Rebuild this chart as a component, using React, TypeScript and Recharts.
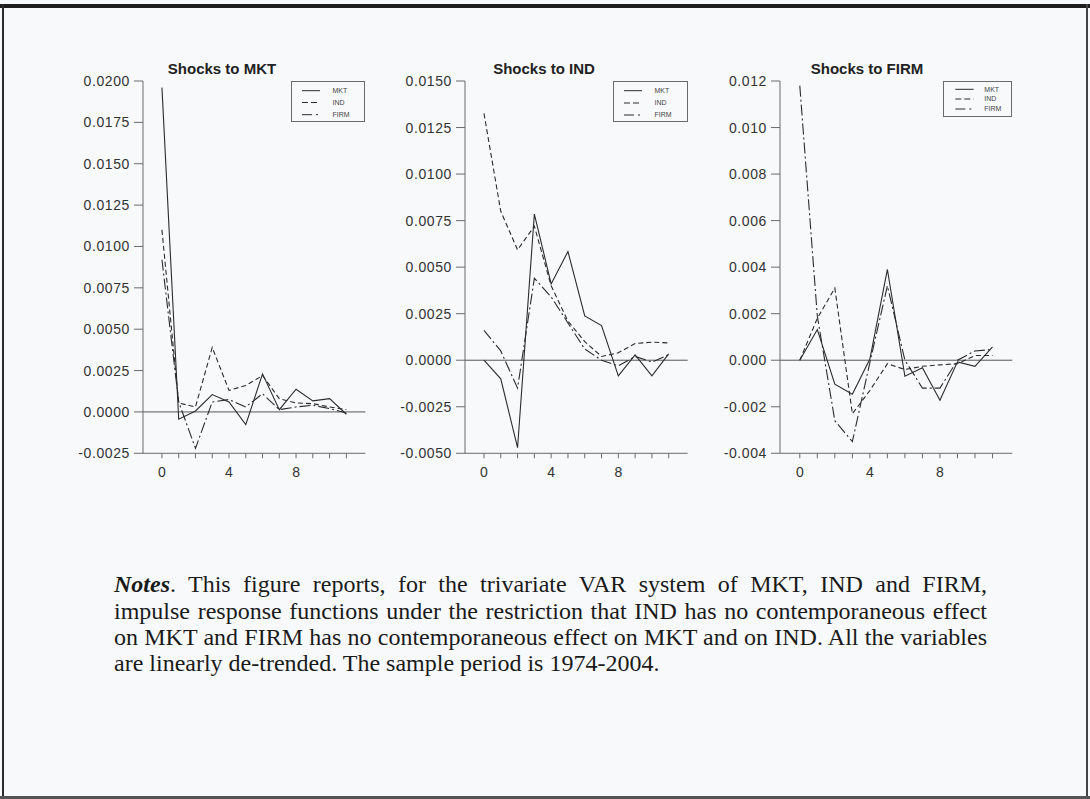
import React from 'react';
import { LineChart, Line, XAxis, YAxis, ReferenceLine } from 'recharts';

// horizon steps and labelled x ticks
const STEPS = [0, 1, 2, 3, 4, 5, 6, 7, 8, 9, 10, 11];
const X_LABELS = [0, 4, 8];
const X_DOMAIN = [-1.13, 12.13];

// responses to a shock to MKT
const mktShockMKT = [0.0196, -0.00044, 0.00006, 0.00105, 0.0006, -0.00077, 0.0023, 0.00014, 0.00137, 0.00067, 0.0008, -0.00014];
const mktShockIND = [0.011, 0.00054, 0.0003, 0.0039, 0.0013, 0.0016, 0.0022, 0.0008, 0.00054, 0.0005, 0.0003, 0.00014];
const mktShockFIRM = [0.0092, 0.0006, -0.0022, 0.0006, 0.00075, 0.0003, 0.0011, 0.00014, 0.0003, 0.0004, 0.0002, -0.00006];

// responses to a shock to IND
const indShockMKT = [0, -0.001, -0.0047, 0.00785, 0.0041, 0.00584, 0.00238, 0.00186, -0.00084, 0.00029, -0.00084, 0.00034];
const indShockIND = [0.01326, 0.008, 0.00593, 0.0072, 0.004, 0.0021, 0.001, 0.0002, 0.0004, 0.0009, 0.00097, 0.00093];
const indShockFIRM = [0.0016, 0.0005, -0.0015, 0.0044, 0.0034, 0.002, 0.0006, 0.0, -0.0003, 0.0002, -0.0001, 0.0003];

// responses to a shock to FIRM
const firmShockMKT = [0, 0.00132, -0.00103, -0.00146, 0.00005, 0.0039, -0.00069, -0.00032, -0.00172, -0.00007, -0.00026, 0.00057];
const firmShockIND = [0, 0.0018, 0.0031, -0.0023, -0.0013, -0.00015, -0.0004, -0.00026, -0.0002, -0.00015, 0.0002, 0.0002];
const firmShockFIRM = [0.0118, 0.0019, -0.0026, -0.0035, -0.0001, 0.0032, 0.0, -0.0012, -0.0012, 0.0, 0.0004, 0.00046];

const Y_TICKS_MKT = [-0.0025, 0, 0.0025, 0.005, 0.0075, 0.01, 0.0125, 0.015, 0.0175, 0.02];
const Y_TICKS_IND = [-0.005, -0.0025, 0, 0.0025, 0.005, 0.0075, 0.01, 0.0125, 0.015];
const Y_TICKS_FIRM = [-0.004, -0.002, 0, 0.002, 0.004, 0.006, 0.008, 0.01, 0.012];

const SERIES = ['MKT', 'IND', 'FIRM'];

const INK = '#2b2b2b';
const AXIS = '#6a6a6a';
const BG = '#f8f9fb';
const SANS = '"Liberation Sans", Arial, sans-serif';

const DASH: Record<string, string | undefined> = {
  MKT: undefined,
  IND: '5 3',
  FIRM: '11 3 2 3',
};

const buildRows = (mkt: number[], ind: number[], firm: number[]) =>
  STEPS.map((s, i) => ({ step: s, MKT: mkt[i], IND: ind[i], FIRM: firm[i] }));

const YAXIS_W = 70;
const MARGIN_R = 10;
const CHART_TOP = 50;
const PLOT_TOP = 81;
const PLOT_BOTTOM = 453.3;
const XAXIS_H = 30;
const MARGIN_B = 10;

const panels = [
  {
    title: 'Shocks to MKT',
    rows: buildRows(mktShockMKT, mktShockIND, mktShockFIRM),
    ticks: Y_TICKS_MKT,
    digits: 4,
    plotLeft: 142.7,
    plotWidth: 222.3,
    titleCenter: 222,
    legend: { w: 74, h: 41, rows: [9.7, 21.5, 33.7], lineX: [11, 29], textX: 41.5 },
  },
  {
    title: 'Shocks to IND',
    rows: buildRows(indShockMKT, indShockIND, indShockFIRM),
    ticks: Y_TICKS_IND,
    digits: 4,
    plotLeft: 465,
    plotWidth: 222.7,
    titleCenter: 544,
    legend: { w: 74.4, h: 41.3, rows: [9.7, 22, 34], lineX: [11, 29], textX: 41.5 },
  },
  {
    title: 'Shocks to FIRM',
    rows: buildRows(firmShockMKT, firmShockIND, firmShockFIRM),
    ticks: Y_TICKS_FIRM,
    digits: 3,
    plotLeft: 780,
    plotWidth: 232.3,
    titleCenter: 867,
    legend: { w: 69.6, h: 35.7, rows: [8.3, 18, 28], lineX: [12.3, 30.6], textX: 41.3 },
  },
];

function LegendBox({ left, legend }: { left: number; legend: any }) {
  return (
    <div
      style={{
        position: 'absolute',
        left,
        top: PLOT_TOP,
        width: legend.w,
        height: legend.h,
        boxSizing: 'border-box',
        border: `1px solid ${AXIS}`,
        background: BG,
      }}
    >
      <svg width={legend.w} height={legend.h} style={{ position: 'absolute', left: -1, top: -1 }}>
        {SERIES.map((s, i) => (
          <g key={s}>
            <line
              x1={legend.lineX[0]}
              x2={legend.lineX[1]}
              y1={legend.rows[i]}
              y2={legend.rows[i]}
              stroke={INK}
              strokeWidth={1}
              strokeDasharray={s === 'IND' ? '6 3' : s === 'FIRM' ? '10 4 2 3' : undefined}
            />
            <text x={legend.textX} y={legend.rows[i] + 2.4} fontSize={7} fontFamily={SANS} fill="#444">
              {s}
            </text>
          </g>
        ))}
      </svg>
    </div>
  );
}

function IrfPanel({ p }: { p: (typeof panels)[number] }) {
  const width = YAXIS_W + p.plotWidth + MARGIN_R;
  const height = PLOT_BOTTOM - CHART_TOP + XAXIS_H + MARGIN_B;
  const yDomain = [p.ticks[0], p.ticks[p.ticks.length - 1]];
  return (
    <>
      <div
        style={{
          position: 'absolute',
          left: p.titleCenter - 100,
          top: 61.3,
          width: 200,
          textAlign: 'center',
          fontFamily: SANS,
          fontWeight: 'bold',
          fontSize: 15,
          lineHeight: '15px',
          color: '#222',
        }}
      >
        {p.title}
      </div>
      <div style={{ position: 'absolute', left: p.plotLeft - YAXIS_W, top: CHART_TOP, width, height }}>
        <LineChart
          width={width}
          height={height}
          data={p.rows}
          margin={{ top: PLOT_TOP - CHART_TOP, right: MARGIN_R, bottom: MARGIN_B, left: 0 }}
        >
          <XAxis
            dataKey="step"
            type="number"
            domain={X_DOMAIN}
            allowDataOverflow
            ticks={STEPS}
            interval={0}
            tickFormatter={(v: number) => (X_LABELS.includes(v) ? String(v) : '')}
            tickSize={5}
            tickMargin={9}
            height={XAXIS_H}
            stroke={AXIS}
            tick={{ fill: '#333', fontSize: 14, fontFamily: SANS }}
          />
          <XAxis
            xAxisId="top"
            orientation="top"
            type="number"
            domain={X_DOMAIN}
            allowDataOverflow
            height={0}
            tick={false}
            tickLine={false}
            stroke={AXIS}
          />
          <YAxis
            type="number"
            domain={yDomain}
            allowDataOverflow
            ticks={p.ticks}
            interval={0}
            tickFormatter={(v: number) => v.toFixed(p.digits)}
            tickSize={9}
            tickMargin={4}
            width={YAXIS_W}
            stroke={AXIS}
            tick={{ fill: '#333', fontSize: 14, fontFamily: SANS, letterSpacing: 0.6 }}
          />
          <YAxis
            yAxisId="right"
            orientation="right"
            type="number"
            domain={yDomain}
            allowDataOverflow
            width={0}
            tick={false}
            tickLine={false}
            stroke={AXIS}
          />
          <ReferenceLine y={0} stroke="#555" strokeWidth={1} />
          {SERIES.map((s) => (
            <Line
              key={s}
              type="linear"
              dataKey={s}
              stroke={INK}
              strokeWidth={1.1}
              strokeDasharray={DASH[s]}
              dot={false}
              activeDot={false}
              isAnimationActive={false}
            />
          ))}
        </LineChart>
      </div>
      <LegendBox left={p.plotLeft + p.plotWidth - p.legend.w} legend={p.legend} />
    </>
  );
}

const NOTE_LINES = [
  'This figure reports, for the trivariate VAR system of MKT, IND and FIRM,',
  'impulse response functions under the restriction that IND has no contemporaneous effect',
  'on MKT and FIRM has no contemporaneous effect on MKT and on IND. All the variables',
  'are linearly de-trended. The sample period is 1974-2004.',
];

export default function App() {
  const lineStyle = (last: boolean): React.CSSProperties => ({
    textAlign: last ? 'left' : 'justify',
    textAlignLast: last ? 'left' : 'justify',
    whiteSpace: 'nowrap',
  });
  return (
    <div
      style={{
        position: 'absolute',
        left: 0,
        top: 0,
        width: 1090,
        height: 799,
        background: BG,
        overflow: 'hidden',
      }}
    >
      {/* page frame */}
      <div style={{ position: 'absolute', left: 0, top: 4, width: 1090, height: 4, background: '#1e1e1e' }} />
      <div style={{ position: 'absolute', left: 2, top: 4, width: 2, height: 795, background: '#2a2a2a' }} />
      <div style={{ position: 'absolute', left: 1086, top: 4, width: 2, height: 795, background: '#444' }} />
      <div style={{ position: 'absolute', left: 0, top: 796, width: 1090, height: 3, background: '#555' }} />

      {panels.map((p) => (
        <IrfPanel key={p.title} p={p} />
      ))}

      <div
        style={{
          position: 'absolute',
          left: 114,
          top: 571.4,
          width: 873,
          fontFamily: '"Liberation Serif", "Times New Roman", serif',
          fontSize: 24,
          lineHeight: '26.3px',
          color: '#1a1a1a',
        }}
      >
        {NOTE_LINES.map((ln, i) => (
          <div key={i} style={lineStyle(i === NOTE_LINES.length - 1)}>
            {i === 0 && (
              <>
                <b>
                  <i>Notes</i>
                </b>
                {'. '}
              </>
            )}
            {ln}
          </div>
        ))}
      </div>
    </div>
  );
}
